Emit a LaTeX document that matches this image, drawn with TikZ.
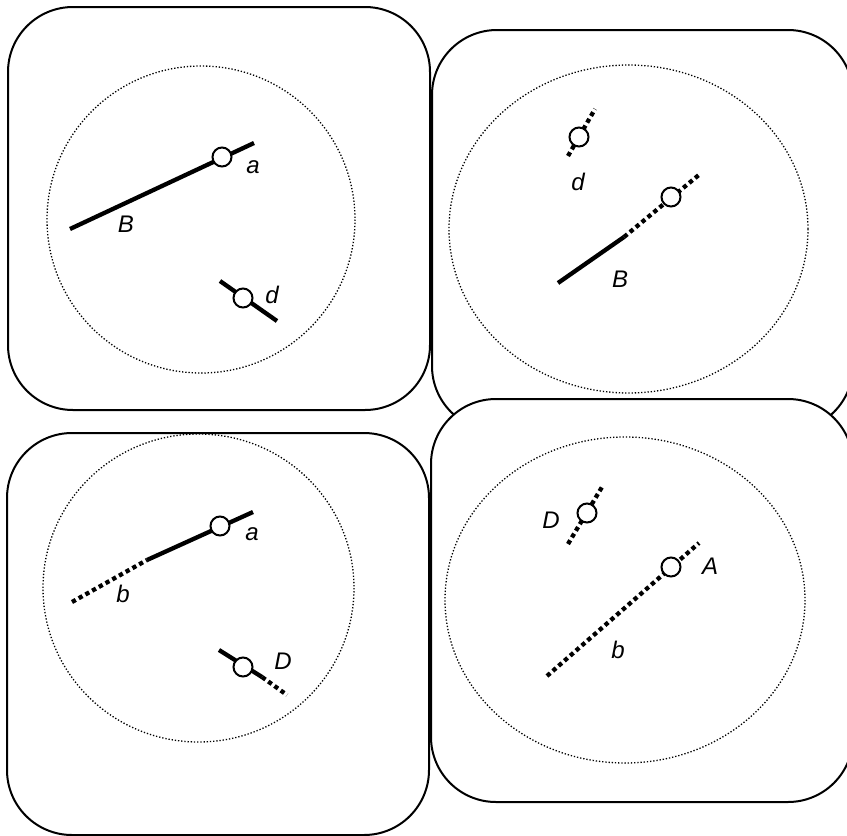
\documentclass[tikz,border=0pt]{standalone}
\usepackage{fontspec}
\setmainfont{Liberation Sans}
\begin{document}
\begin{tikzpicture}[x=1pt,y=-1pt,
  panel/.style={draw, line width=2pt, rounded corners=65pt},
  guide/.style={line width=1.3pt, dash pattern=on 1.3pt off 1.9pt},
  solidseg/.style={line width=4.3pt},
  dotseg/.style={line width=4.3pt, dash pattern=on 4.3pt off 3.4pt},
  pin/.style={circle, draw, fill=white, line width=2pt, minimum size=19pt, inner sep=0pt},
  lbl/.style={font=\fontsize{24}{24}\selectfont\itshape, inner sep=0pt}]
\useasboundingbox (0,0) rectangle (847,836);
\clip (0,0) rectangle (847,836);

% ---------- panel 1 (top left)
\draw[panel, fill=white] (8,7) rectangle (430,410);
\draw[guide] (201,219.5) ellipse [x radius=154, y radius=153.5];
\coordinate (p1B0) at (70,229);
\coordinate (p1B1) at (254,143);
\coordinate (p1d0) at (220,281);
\coordinate (p1d1) at (277,321);
\draw[solidseg] (p1B0) -- (p1B1);
\draw[solidseg] (p1d0) -- (p1d1);
\node[pin] (p1a) at (222,157) {};
\node[pin] (p1dc) at (243,298) {};
\node[lbl] (p1la) at (253,167) {a};
\node[lbl] (p1lB) at (126,224) {B};
\node[lbl] (p1ld) at (272,295) {d};

% ---------- panel 2 (top right)
\draw[panel, fill=white] (432,30) rectangle (853,431);
\draw[guide] (628.5,229) ellipse [x radius=179.5, y radius=164];
\coordinate (p2B0) at (558,283);
\coordinate (p2Bm) at (624,237);
\coordinate (p2B1) at (700,174);
\coordinate (p2d0) at (568,156);
\coordinate (p2d1) at (595,109);
\draw[solidseg] (p2B0) -- (p2Bm);
\draw[dotseg] (p2Bm) -- (p2B1);
\draw[dotseg] (p2d0) -- (p2d1);
\node[pin] (p2a) at (671,197) {};
\node[pin] (p2dc) at (579,137) {};
\node[lbl] (p2ld) at (578,182) {d};
\node[lbl] (p2lB) at (620,279) {B};

% ---------- panel 3 (bottom left)
\draw[panel, fill=white] (7,433) rectangle (429,835);
\draw[guide] (198.5,588) ellipse [x radius=155.5, y radius=154];
\coordinate (p3b0) at (72,602);
\coordinate (p3bm) at (147,560);
\coordinate (p3b1) at (253,512);
\coordinate (p3D0) at (219,650);
\coordinate (p3Dm) at (262,677);
\coordinate (p3D1) at (287,695);
\draw[dotseg] (p3b0) -- (p3bm);
\draw[solidseg] (p3bm) -- (p3b1);
\draw[solidseg] (p3D0) -- (p3Dm);
\draw[dotseg] (p3Dm) -- (p3D1);
\node[pin] (p3a) at (220,526) {};
\node[pin] (p3Dc) at (243,667) {};
\node[lbl] (p3la) at (252,534) {a};
\node[lbl] (p3lb) at (123,594) {b};
\node[lbl] (p3lD) at (283,661) {D};

% ---------- panel 4 (bottom right)
\draw[panel, fill=white] (431,399) rectangle (853,802);
\draw[guide] (625,600) ellipse [x radius=180, y radius=163];
\coordinate (p4b0) at (547,676);
\coordinate (p4b1) at (699,543);
\coordinate (p4D0) at (568,544);
\coordinate (p4D1) at (602,487);
\draw[dotseg] (p4b0) -- (p4b1);
\draw[dotseg] (p4D0) -- (p4D1);
\node[pin] (p4A) at (671,567) {};
\node[pin] (p4Dc) at (587,513) {};
\node[lbl] (p4lD) at (551,520) {D};
\node[lbl] (p4lA) at (710,566) {A};
\node[lbl] (p4lb) at (618,650) {b};
\end{tikzpicture}
\end{document}
